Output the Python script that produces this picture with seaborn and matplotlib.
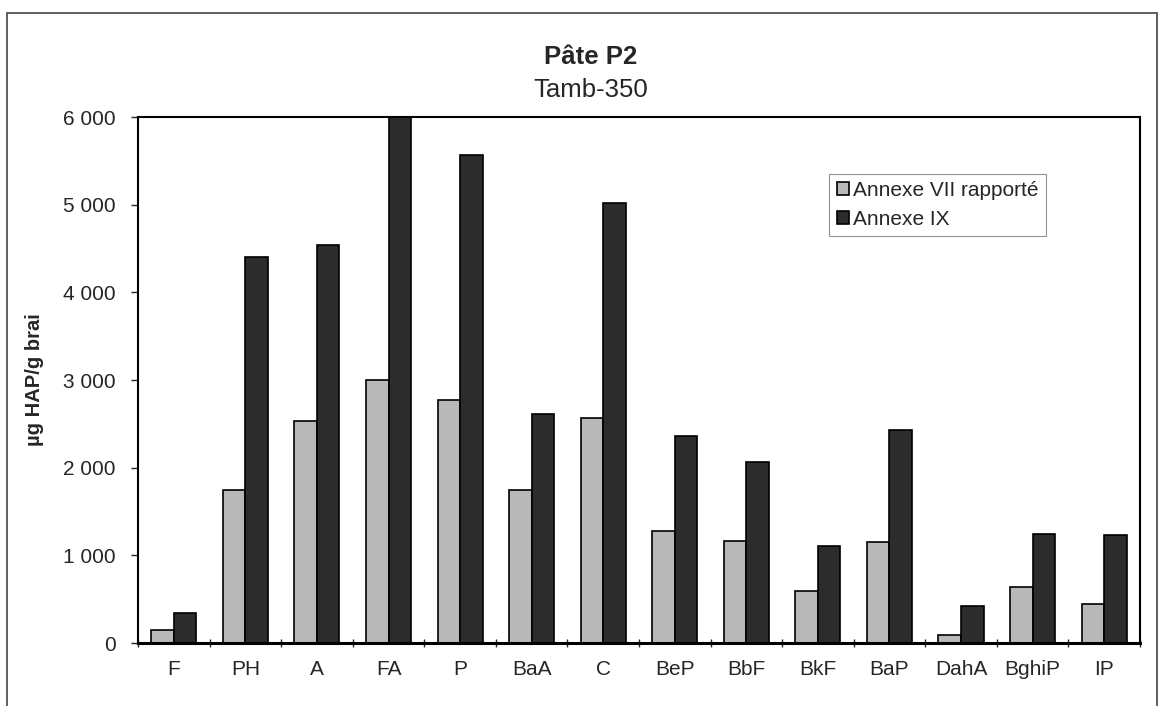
import matplotlib
matplotlib.use("Agg")
import matplotlib.pyplot as plt
import seaborn as sns
import pandas as pd
from matplotlib.ticker import FuncFormatter, FixedLocator
from matplotlib.patches import Rectangle

# data
categories = ["F", "PH", "A", "FA", "P", "BaA", "C", "BeP", "BbF", "BkF",
              "BaP", "DahA", "BghiP", "IP"]
annexe_vii = [145, 1750, 2535, 3005, 2775, 1750, 2565, 1280, 1160, 590,
              1150, 95, 635, 450]
annexe_ix = [345, 4400, 4540, 6000, 5570, 2615, 5020, 2365, 2070, 1105,
             2435, 425, 1245, 1235]
series_names = ["Annexe VII rapporté", "Annexe IX"]

df = pd.DataFrame({
    "cat": categories * 2,
    "val": annexe_vii + annexe_ix,
    "serie": [series_names[0]] * len(categories) + [series_names[1]] * len(categories),
})

sns.set_style("white")
plt.rcParams["font.family"] = ["Liberation Sans", "DejaVu Sans"]

fig = plt.figure(figsize=(11.62, 7.06), dpi=100)
ax = fig.add_axes([0.1188, 0.0892, 0.8622, 0.7450])

sns.barplot(data=df, x="cat", y="val", hue="serie", order=categories,
            hue_order=series_names, palette=["#b8b8b8", "#2c2c2c"],
            width=0.63, gap=0, edgecolor="black", linewidth=1.2,
            saturation=1, ax=ax)

ax.set_xlim(-0.5, len(categories) - 0.5)
ax.set_ylim(0, 6000)
ax.set_yticks(range(0, 6001, 1000))
ax.yaxis.set_major_formatter(FuncFormatter(lambda v, p: f"{int(v):,}".replace(",", " ")))
ax.set_xlabel("")
ax.set_ylabel("µg HAP/g brai", fontsize=14.5, fontweight="bold", labelpad=14)

# tick marks between categories, labels at centres
ax.xaxis.set_minor_locator(FixedLocator([i - 0.5 for i in range(len(categories) + 1)]))
ax.tick_params(axis="x", which="major", length=0, labelsize=15, pad=12)
ax.tick_params(axis="x", which="minor", length=6, width=1, direction="inout", bottom=True)
ax.tick_params(axis="y", which="major", length=5, width=1, direction="out", left=True,
               labelsize=15, pad=11)

for side in ["top", "right", "left", "bottom"]:
    ax.spines[side].set_visible(True)
    ax.spines[side].set_color("black")
    ax.spines[side].set_linewidth(1.5)
ax.spines["bottom"].set_linewidth(2.2)

leg = ax.legend(loc="upper left", bbox_to_anchor=(0.69, 0.892), fontsize=15,
                frameon=True, fancybox=False, edgecolor="#777777",
                handlelength=0.6, handleheight=0.6, handletextpad=0.2,
                borderpad=0.35, labelspacing=0.45, borderaxespad=0)
leg.get_frame().set_linewidth(0.8)

fig.text(0.508, 0.919, "Pâte P2", ha="center", va="center", fontsize=18.5,
         fontweight="bold")
fig.text(0.508, 0.8725, "Tamb-350", ha="center", va="center", fontsize=18.5)

# outer frame of the chart area
fig.patches.append(Rectangle((0.006, -0.01), 0.990, 0.992, transform=fig.transFigure,
                             fill=False, edgecolor="#444444", linewidth=1.2))

fig.savefig("out.png", dpi=100)
